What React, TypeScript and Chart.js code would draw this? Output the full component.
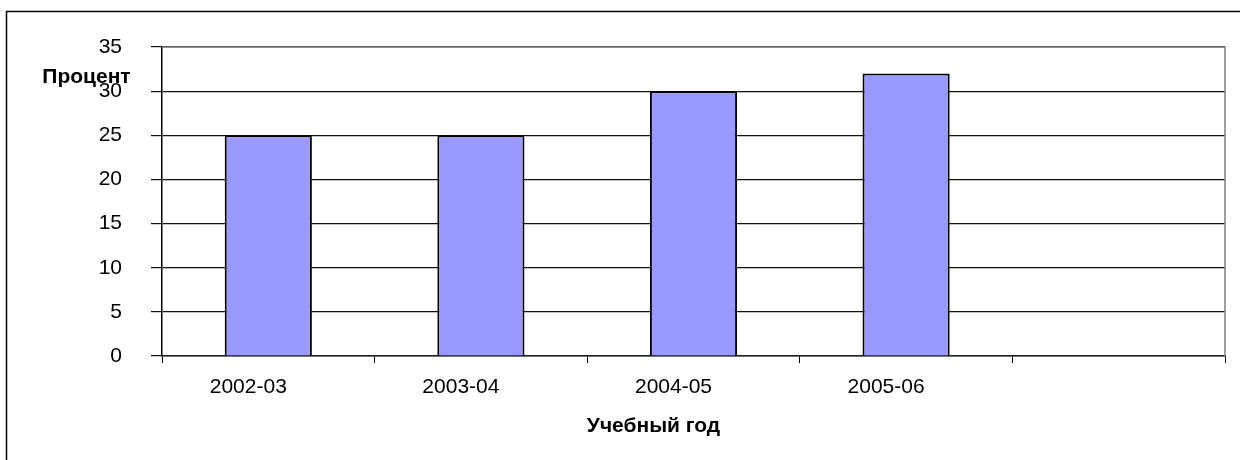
import React, { useEffect, useRef } from 'react';
import { Chart, registerables } from 'chart.js';

Chart.register(...registerables);

const categories: string[] = ['2002-03', '2003-04', '2004-05', '2005-06', ''];
const percentValues: (number | null)[] = [25, 25, 30, 32, null];
const yMin = 0;
const yMax = 35;
const yStep = 5;
const yTitle = 'Процент';
const xTitle = 'Учебный год';

const FONT_FAMILY = "'Liberation Sans', Arial, sans-serif";

const decor = {
  id: 'decor',
  beforeDraw(chart: any) {
    const ctx = chart.ctx;
    ctx.save();
    ctx.fillStyle = '#ffffff';
    ctx.fillRect(0, 0, chart.width, chart.height);
    ctx.strokeStyle = '#000000';
    ctx.lineWidth = 1.5;
    ctx.beginPath();
    ctx.moveTo(6.5, chart.height + 5);
    ctx.lineTo(6.5, 11.5);
    ctx.lineTo(chart.width + 5, 11.5);
    ctx.stroke();
    ctx.restore();
  },
  beforeDatasetsDraw(chart: any) {
    const { left, top, right, bottom } = chart.chartArea;
    const ctx = chart.ctx;
    ctx.save();
    ctx.strokeStyle = '#808080';
    ctx.lineWidth = 1.5;
    ctx.beginPath();
    ctx.moveTo(left, top);
    ctx.lineTo(right, top);
    ctx.lineTo(right, bottom);
    ctx.stroke();
    ctx.restore();
  },
  afterDraw(chart: any) {
    const { left, top, right, bottom } = chart.chartArea;
    const ctx = chart.ctx;
    ctx.save();
    ctx.fillStyle = '#000000';
    ctx.font = `bold 21px ${FONT_FAMILY}`;
    ctx.textAlign = 'center';
    ctx.textBaseline = 'alphabetic';
    ctx.fillText(yTitle, left - 75.5, top + 36);
    ctx.fillText(xTitle, (left + right) / 2 - 40, bottom + 75.5);
    ctx.restore();
  },
};

export default function App() {
  const canvasRef = useRef<HTMLCanvasElement | null>(null);

  useEffect(() => {
    const canvas = canvasRef.current;
    if (!canvas) return;
    const tickFont = { family: FONT_FAMILY, size: 21 };
    const chart = new Chart(canvas, {
      type: 'bar',
      data: {
        labels: categories,
        datasets: [
          {
            data: percentValues,
            backgroundColor: '#9999FF',
            borderColor: '#000000',
            borderWidth: 2,
            barPercentage: 0.41,
            categoryPercentage: 1,
          },
        ],
      },
      options: {
        animation: false,
        responsive: false,
        devicePixelRatio: 1,
        layout: { padding: { left: 0, top: 47, right: 15, bottom: 0 } },
        plugins: {
          legend: { display: false },
          tooltip: { enabled: false },
        },
        scales: {
          x: {
            grid: {
              display: true,
              drawOnChartArea: false,
              drawTicks: true,
              tickLength: 7,
              color: '#000000',
              offset: true,
            },
            border: { display: true, color: '#222222', width: 1.5 },
            ticks: {
              color: '#000000',
              font: tickFont,
              padding: 12,
              labelOffset: -20,
              maxRotation: 0,
              autoSkip: false,
            },
            afterFit: (s: any) => {
              s.height = 104;
            },
          },
          y: {
            min: yMin,
            max: yMax,
            grid: {
              color: '#111111',
              lineWidth: 1.2,
              drawTicks: true,
              tickLength: 11,
            },
            border: { display: true, color: '#000000', width: 1.5 },
            ticks: {
              stepSize: yStep,
              color: '#000000',
              font: tickFont,
              padding: 29,
            },
            afterFit: (s: any) => {
              s.width = 162;
            },
          },
        },
      },
      plugins: [decor],
    });
    return () => chart.destroy();
  }, []);

  return (
    <div style={{ position: 'fixed', left: 0, top: 0, width: 1240, height: 460 }}>
      <canvas ref={canvasRef} width={1240} height={460} />
    </div>
  );
}
